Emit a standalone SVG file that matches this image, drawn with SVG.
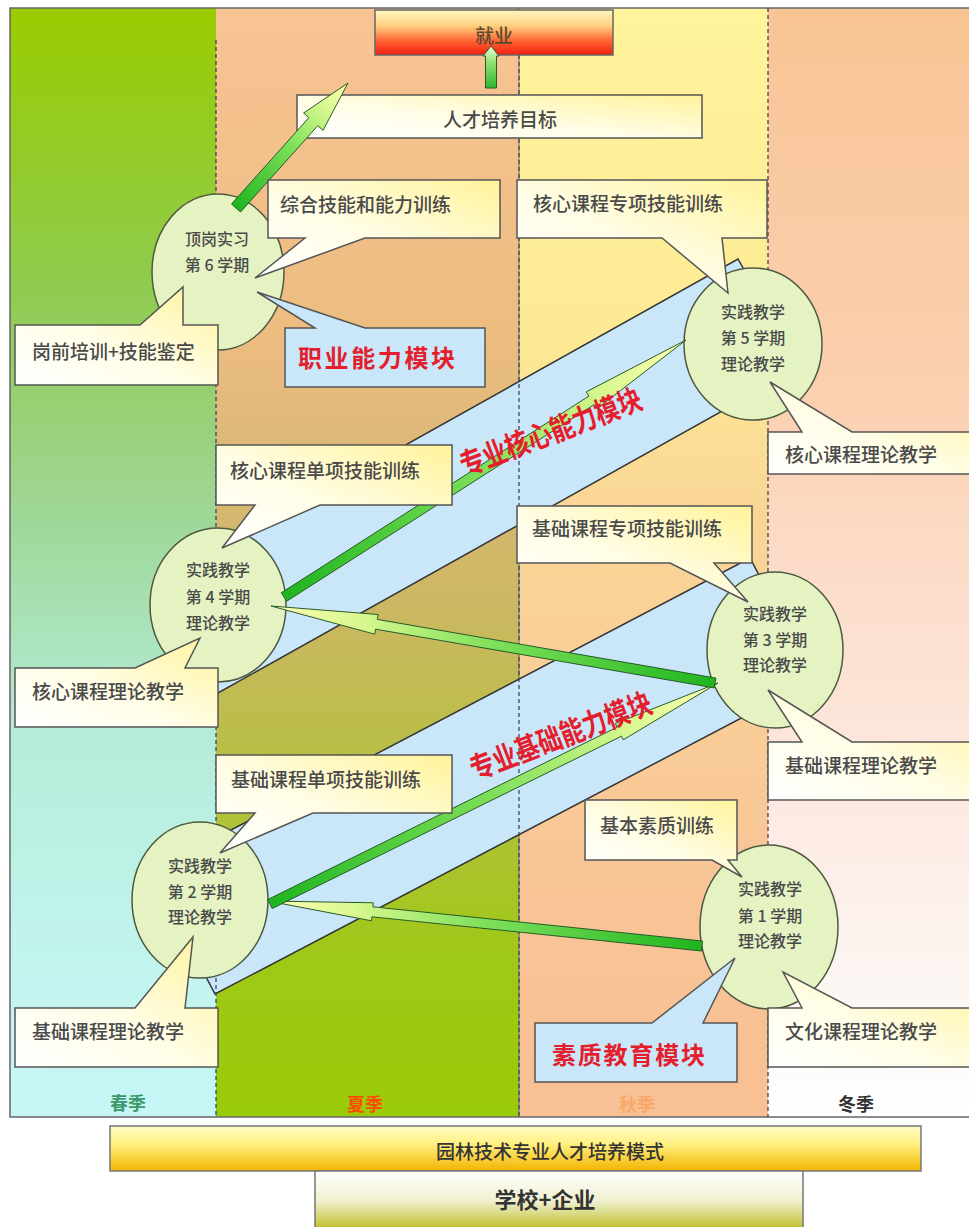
<svg xmlns="http://www.w3.org/2000/svg" width="969" height="1227" viewBox="0 0 969 1227">
<defs>
<linearGradient id="gC1" x1="0" y1="0" x2="0" y2="1">
<stop offset="0" stop-color="#99cc00"/><stop offset="0.25" stop-color="#8fcb4e"/><stop offset="0.45" stop-color="#9ed694"/><stop offset="0.65" stop-color="#b4ecd8"/><stop offset="0.85" stop-color="#c2f4ee"/><stop offset="1" stop-color="#c6f6f6"/>
</linearGradient>
<linearGradient id="gC2" x1="0" y1="0" x2="0" y2="1">
<stop offset="0" stop-color="#f8c494"/><stop offset="0.3" stop-color="#ecbc80"/><stop offset="0.4" stop-color="#dcb878"/><stop offset="0.55" stop-color="#cab860"/><stop offset="0.7" stop-color="#b4c040"/><stop offset="0.85" stop-color="#a0c818"/><stop offset="1" stop-color="#9acb08"/>
</linearGradient>
<linearGradient id="gC3" x1="0" y1="0" x2="0" y2="1">
<stop offset="0" stop-color="#fff49c"/><stop offset="0.3" stop-color="#fde994"/><stop offset="0.45" stop-color="#fad696"/><stop offset="0.6" stop-color="#f9cf98"/><stop offset="0.8" stop-color="#f8c496"/><stop offset="1" stop-color="#f8c094"/>
</linearGradient>
<linearGradient id="gC4" x1="0" y1="0" x2="0" y2="1">
<stop offset="0" stop-color="#f8c494"/><stop offset="0.35" stop-color="#fbd0b0"/><stop offset="0.5" stop-color="#fcdcc8"/><stop offset="0.7" stop-color="#fde8e0"/><stop offset="0.88" stop-color="#fcf6f2"/><stop offset="1" stop-color="#ffffff"/>
</linearGradient>
<linearGradient id="gCal" x1="0" y1="1" x2="1" y2="0">
<stop offset="0" stop-color="#ffffff"/><stop offset="0.45" stop-color="#fffde6"/><stop offset="1" stop-color="#fff39a"/>
</linearGradient>
<linearGradient id="gJob" x1="0" y1="0" x2="0" y2="1">
<stop offset="0" stop-color="#fff8c0"/><stop offset="0.35" stop-color="#ffd080"/><stop offset="0.7" stop-color="#ff6030"/><stop offset="1" stop-color="#f02010"/>
</linearGradient>
<linearGradient id="gMode" x1="0" y1="0" x2="0" y2="1">
<stop offset="0" stop-color="#fffbc8"/><stop offset="0.4" stop-color="#fff080"/><stop offset="1" stop-color="#f2b400"/>
</linearGradient>
<linearGradient id="gSchool" x1="0" y1="0" x2="0" y2="1">
<stop offset="0" stop-color="#ffffff"/><stop offset="0.5" stop-color="#f0f0d0"/><stop offset="1" stop-color="#bcbc1c"/>
</linearGradient>
<linearGradient id="gA" gradientUnits="userSpaceOnUse" x1="702" y1="946" x2="268" y2="901">
<stop offset="0" stop-color="#1fb51f"/><stop offset="0.5" stop-color="#7ee05a"/><stop offset="0.8" stop-color="#d8f890"/><stop offset="1" stop-color="#ffffb4"/>
</linearGradient>
<linearGradient id="gB" gradientUnits="userSpaceOnUse" x1="270" y1="904" x2="718" y2="683">
<stop offset="0" stop-color="#1fb51f"/><stop offset="0.5" stop-color="#7ee05a"/><stop offset="0.8" stop-color="#d8f890"/><stop offset="1" stop-color="#ffffb4"/>
</linearGradient>
<linearGradient id="gCc" gradientUnits="userSpaceOnUse" x1="715" y1="683" x2="271" y2="606">
<stop offset="0" stop-color="#1fb51f"/><stop offset="0.5" stop-color="#7ee05a"/><stop offset="0.8" stop-color="#d8f890"/><stop offset="1" stop-color="#ffffb4"/>
</linearGradient>
<linearGradient id="gD" gradientUnits="userSpaceOnUse" x1="284" y1="597" x2="686" y2="340">
<stop offset="0" stop-color="#1fb51f"/><stop offset="0.5" stop-color="#7ee05a"/><stop offset="0.8" stop-color="#d8f890"/><stop offset="1" stop-color="#ffffb4"/>
</linearGradient>
<linearGradient id="gE" gradientUnits="userSpaceOnUse" x1="236" y1="208" x2="348" y2="83">
<stop offset="0" stop-color="#1fb51f"/><stop offset="0.5" stop-color="#7ee05a"/><stop offset="0.8" stop-color="#d8f890"/><stop offset="1" stop-color="#ffffb4"/>
</linearGradient>
<linearGradient id="gF" gradientUnits="userSpaceOnUse" x1="490" y1="88" x2="490" y2="46">
<stop offset="0" stop-color="#30b830"/><stop offset="0.6" stop-color="#8ee070"/><stop offset="1" stop-color="#f0ffe0"/>
</linearGradient>
<style>
.t{font-family:"Noto Sans CJK SC","Noto Sans",sans-serif;font-size:19px;fill:#4a4a4a;font-weight:500}
.te{font-size:16px;text-anchor:middle;dominant-baseline:central}
.mid{text-anchor:middle;dominant-baseline:central}
.cal{fill:url(#gCal);stroke:#555;stroke-width:1.5;stroke-linejoin:miter}
.blue{fill:#c9e7f9;stroke:#555;stroke-width:1.5}
.ell{fill:#e5f3c3;stroke:#4d5a40;stroke-width:1.5}
.band{fill:#c9e7f9;stroke:#333;stroke-width:1.5}
.arr{stroke:#2a5a2a;stroke-width:1;stroke-linejoin:miter}
.red{fill:#e41e2c;font-weight:bold}
.dash{stroke:#3c4660;stroke-width:1.3;stroke-dasharray:4 3;fill:none}
</style>
</defs>

<g id="background">
<rect x="10" y="8" width="206" height="1109" fill="url(#gC1)"/>
<rect x="216" y="8" width="303" height="1109" fill="url(#gC2)"/>
<rect x="519" y="8" width="249" height="1109" fill="url(#gC3)"/>
<rect x="768" y="8" width="202" height="1109" fill="url(#gC4)"/>
<line x1="519" y1="8" x2="519" y2="1117" stroke="#666" stroke-width="1"/>
<rect x="10" y="8" width="970" height="1109" fill="none" stroke="#666" stroke-width="1.5"/>
</g>

<g id="bands">
<polygon class="band" points="157,584 738,259 799,368 218,693"/>
<polygon class="band" points="151,872 750,558 814,680 215,994"/>
</g>

<g id="column-lines">
<line class="dash" x1="216" y1="40" x2="216" y2="1117"/>
<line class="dash" x1="519" y1="55" x2="519" y2="1117"/>
<line class="dash" x1="768" y1="8" x2="768" y2="1117"/>
</g>

<g id="target">
<rect x="297" y="95" width="405" height="43" class="cal"/>
<text class="t mid" x="500" y="118">人才培养目标</text>
</g>
<g id="job">
<rect x="375" y="10" width="238" height="45" fill="url(#gJob)" stroke="#666" stroke-width="1.5"/>
<text class="t mid" x="494" y="34" style="fill:#5a4a30">就业</text>
</g>

<g id="semester6"><ellipse class="ell" cx="218" cy="272" rx="66" ry="78"/>
<text class="t te" x="217" y="238">顶岗实习</text><text class="t te" x="217" y="264">第 6 学期</text></g>
<g id="semester5"><ellipse class="ell" cx="753" cy="344" rx="69" ry="76"/>
<text class="t te" x="753" y="311">实践教学</text><text class="t te" x="753" y="337">第 5 学期</text><text class="t te" x="753" y="363">理论教学</text></g>
<g id="semester4"><ellipse class="ell" cx="218" cy="605" rx="68" ry="77"/>
<text class="t te" x="218" y="569">实践教学</text><text class="t te" x="218" y="596">第 4 学期</text><text class="t te" x="218" y="622">理论教学</text></g>
<g id="semester3"><ellipse class="ell" cx="775" cy="650" rx="68" ry="78"/>
<text class="t te" x="775" y="613">实践教学</text><text class="t te" x="775" y="639">第 3 学期</text><text class="t te" x="775" y="664">理论教学</text></g>
<g id="semester2"><ellipse class="ell" cx="200" cy="900" rx="68" ry="78"/>
<text class="t te" x="200" y="865">实践教学</text><text class="t te" x="200" y="891">第 2 学期</text><text class="t te" x="200" y="916">理论教学</text></g>
<g id="semester1"><ellipse class="ell" cx="769" cy="927" rx="69" ry="82"/>
<text class="t te" x="770" y="888">实践教学</text><text class="t te" x="770" y="915">第 1 学期</text><text class="t te" x="770" y="940">理论教学</text></g>

<g id="connectors">
<polygon class="arr" fill="url(#gA)" points="702.5,941 372.9,906.8 373.3,902.8 268,901 371.5,920.8 371.9,916.8 701.5,951"/>
<polygon class="arr" fill="url(#gB)" points="272.2,908.5 621.5,736.2 623.3,739.8 718,683 615.3,723.6 617.1,727.2 267.8,899.5"/>
<polygon class="arr" fill="url(#gCc)" points="715.9,678.1 377.3,619.4 378.1,614.5 271,606 374.7,634.2 375.6,629.2 714.1,687.9"/>
<polygon class="arr" fill="url(#gD)" points="286.7,601.2 594.3,404.5 597,408.7 686,340 586.2,391.9 588.9,396.1 281.3,592.8"/>
<polygon class="arr" fill="url(#gE)" points="240.5,212 317.8,125.7 323,130.4 348,83 303.6,113 308.8,117.7 231.5,204"/>
<polygon class="arr" fill="url(#gF)" points="485.5,88 485.5,56 483,56 491,46 499,56 496.5,56 496.5,88"/>
</g>

<g id="callout-zonghe"><path class="cal" d="M268,180 H500 V238 H365 L255,278 L305,238 H268 Z"/>
<text class="t" x="280" y="212">综合技能和能力训练</text></g>
<g id="callout-hexin-zhuanxiang"><path class="cal" d="M517,180 H767 V238 H722 L728,293 L662,238 H517 Z"/>
<text class="t" x="533" y="211">核心课程专项技能训练</text></g>
<g id="callout-gangqian"><path class="cal" d="M15,325 H140 L183,287 V325 H218 V385 H15 Z"/>
<text class="t" x="32" y="359">岗前培训+技能鉴定</text></g>
<g id="callout-zhiye"><path class="blue" d="M285,328 H315 L257,292 L365,328 H485 V387 H285 Z"/>
<text class="t red" x="298" y="367" style="font-size:24px" textLength="157" lengthAdjust="spacing">职业能力模块</text></g>
<g id="callout-hexin-lilun-r"><path class="cal" d="M768,432 H802 L770,382 L852,432 H975 V474 H768 Z"/>
<text class="t" x="785" y="462">核心课程理论教学</text></g>
<g id="callout-hexin-danxiang"><path class="cal" d="M216,445 H452 V505 H320 L222,548 L255,505 H216 Z"/>
<text class="t" x="230" y="478">核心课程单项技能训练</text></g>
<g id="callout-hexin-lilun-l"><path class="cal" d="M15,668 H135 L200,638 L185,668 H218 V727 H15 Z"/>
<text class="t" x="32" y="699">核心课程理论教学</text></g>
<g id="callout-jichu-zhuanxiang"><path class="cal" d="M517,506 H752 V563 H714 L748,602 L670,563 H517 Z"/>
<text class="t" x="532" y="536">基础课程专项技能训练</text></g>
<g id="callout-jichu-lilun-r"><path class="cal" d="M768,742 H802 L768,690 L852,742 H975 V800 H768 Z"/>
<text class="t" x="785" y="773">基础课程理论教学</text></g>
<g id="callout-jichu-danxiang"><path class="cal" d="M216,755 H452 V813 H313 L220,853 L255,813 H216 Z"/>
<text class="t" x="231" y="787">基础课程单项技能训练</text></g>
<g id="callout-jichu-lilun-l"><path class="cal" d="M15,1008 H135 L193,937 L185,1008 H218 V1067 H15 Z"/>
<text class="t" x="32" y="1039">基础课程理论教学</text></g>
<g id="callout-jiben"><path class="cal" d="M585,800 H737 V860 H728 L742,877 L712,860 H585 Z"/>
<text class="t" x="600" y="833">基本素质训练</text></g>
<g id="callout-wenhua"><path class="cal" d="M768,1008 H802 L783,972 L852,1008 H975 V1067 H768 Z"/>
<text class="t" x="785" y="1039">文化课程理论教学</text></g>
<g id="callout-suzhi"><path class="blue" d="M535,1023 H652 L735,958 L703,1023 H737 V1082 H535 Z"/>
<text class="t red" x="552" y="1064" style="font-size:24px" textLength="153" lengthAdjust="spacing">素质教育模块</text></g>

<g id="module-labels">
<text class="t red mid" x="550" y="430" transform="rotate(-21 550 430)" style="font-size:30px" textLength="192" lengthAdjust="spacingAndGlyphs">专业核心能力模块</text>
<text class="t red mid" x="560" y="734" transform="rotate(-21 560 734)" style="font-size:30px" textLength="192" lengthAdjust="spacingAndGlyphs">专业基础能力模块</text>
</g>

<g id="seasons">
<text class="t mid" x="128" y="1102" style="font-size:18px;fill:#3a9a6a;font-weight:bold">春季</text>
<text class="t mid" x="365" y="1103" style="font-size:18px;fill:#ff4a00;font-weight:bold">夏季</text>
<text class="t mid" x="637" y="1103" style="font-size:18px;fill:#f8a868;font-weight:bold">秋季</text>
<text class="t mid" x="856" y="1103" style="font-size:18px;fill:#333;font-weight:bold">冬季</text>
</g>

<g id="mode">
<rect x="110" y="1126" width="811" height="45" fill="url(#gMode)" stroke="#777" stroke-width="1.5"/>
<text class="t mid" x="550" y="1150" style="fill:#333">园林技术专业人才培养模式</text>
</g>
<g id="school">
<rect x="315" y="1171" width="488" height="60" fill="url(#gSchool)" stroke="#777" stroke-width="1.5"/>
<text class="t mid" x="545" y="1198" style="font-size:22px;fill:#333;font-weight:bold">学校+企业</text>
</g>
</svg>
